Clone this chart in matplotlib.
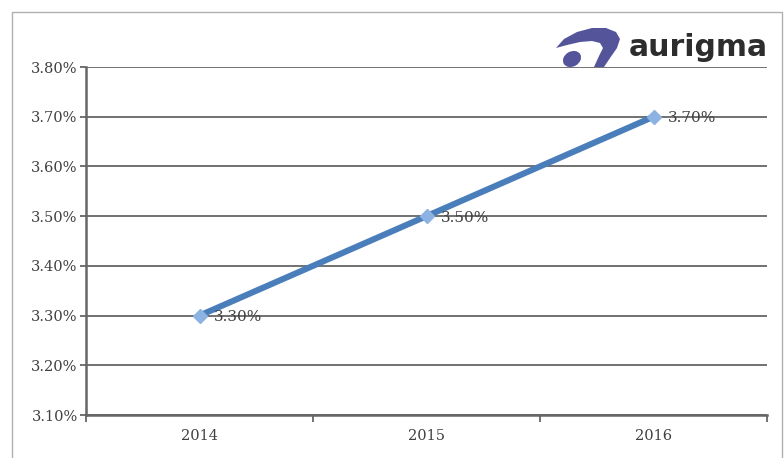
import matplotlib.pyplot as plt
import matplotlib.patches as mpatches
from matplotlib.ticker import FuncFormatter, MultipleLocator

years = ["2014", "2015", "2016"]
rates = [3.30, 3.50, 3.70]

fig = plt.figure(figsize=(7.84, 4.58), dpi=100)
# outer chart border (bottom edge runs off the picture)
fig.patches.append(mpatches.Rectangle((12 / 784, -0.1), 770 / 784, 446 / 458 + 0.1,
                                      transform=fig.transFigure, fill=False,
                                      edgecolor="#b0b0b0", lw=1))
ax = fig.add_axes([86 / 784, 43 / 458, 681 / 784, 348 / 458])

x = list(range(len(years)))
ax.plot(x, rates, color="#4a7ebb", lw=4.4, solid_capstyle="round", zorder=3)
ax.plot(x, rates, ls="none", marker="D", ms=7.5, color="#8db3e2", mec="#8db3e2", zorder=4)
for xi, v in zip(x, rates):
    ax.annotate(f"{v:.2f}%", (xi, v), xytext=(10, -1), textcoords="offset points",
                va="center", ha="left", fontsize=11, family="DejaVu Serif",
                color="#404040", zorder=5)

ax.set_xlim(-0.5, 2.5)
ax.set_ylim(3.10, 3.80)
ax.yaxis.set_major_locator(MultipleLocator(0.10))
ax.yaxis.set_major_formatter(FuncFormatter(lambda v, p: f"{v:.2f}%"))
ax.grid(axis="y", color="#666666", lw=1.3)
ax.set_axisbelow(True)

ax.set_xticks(x)
ax.set_xticklabels(years)
ax.set_xticks([-0.5, 0.5, 1.5, 2.5], minor=True)
ax.tick_params(axis="x", which="major", length=0, pad=10)
ax.tick_params(axis="x", which="minor", length=5, width=1.3, color="#666666")
ax.tick_params(axis="y", length=4, width=1.3, color="#666666", pad=2)
for lab in ax.get_xticklabels() + ax.get_yticklabels():
    lab.set_fontfamily("DejaVu Serif")
    lab.set_fontsize(10.5)
    lab.set_color("#404040")

for s in ["top", "right"]:
    ax.spines[s].set_visible(False)
for s in ["left", "bottom"]:
    ax.spines[s].set_color("#666666")
    ax.spines[s].set_linewidth(1.8)

# logo, drawn in image pixel coordinates
logo = fig.add_axes([545 / 784, (458 - 75) / 458, 239 / 784, 55 / 458])
logo.set_xlim(545, 784)
logo.set_ylim(75, 20)
logo.axis("off")
logo_color = "#54549a"
logo.add_patch(mpatches.Polygon(
    [[556, 48], [564, 39], [577, 32], [592, 28], [606, 28], [616, 32], [620, 39],
     [617, 48], [610, 58], [604, 67], [594, 67], [599, 56], [603, 48], [600, 43],
     [592, 41], [580, 42], [567, 45]],
    closed=True, color=logo_color, lw=0))
logo.add_patch(mpatches.Ellipse((572, 59), 19, 15, angle=-30, color=logo_color, lw=0))
logo.text(629, 48, "aurigma", fontsize=21.5, fontweight="bold", family="DejaVu Sans",
          color="#2d2d2d", va="center", ha="left")

fig.savefig("out.png", dpi=100)
